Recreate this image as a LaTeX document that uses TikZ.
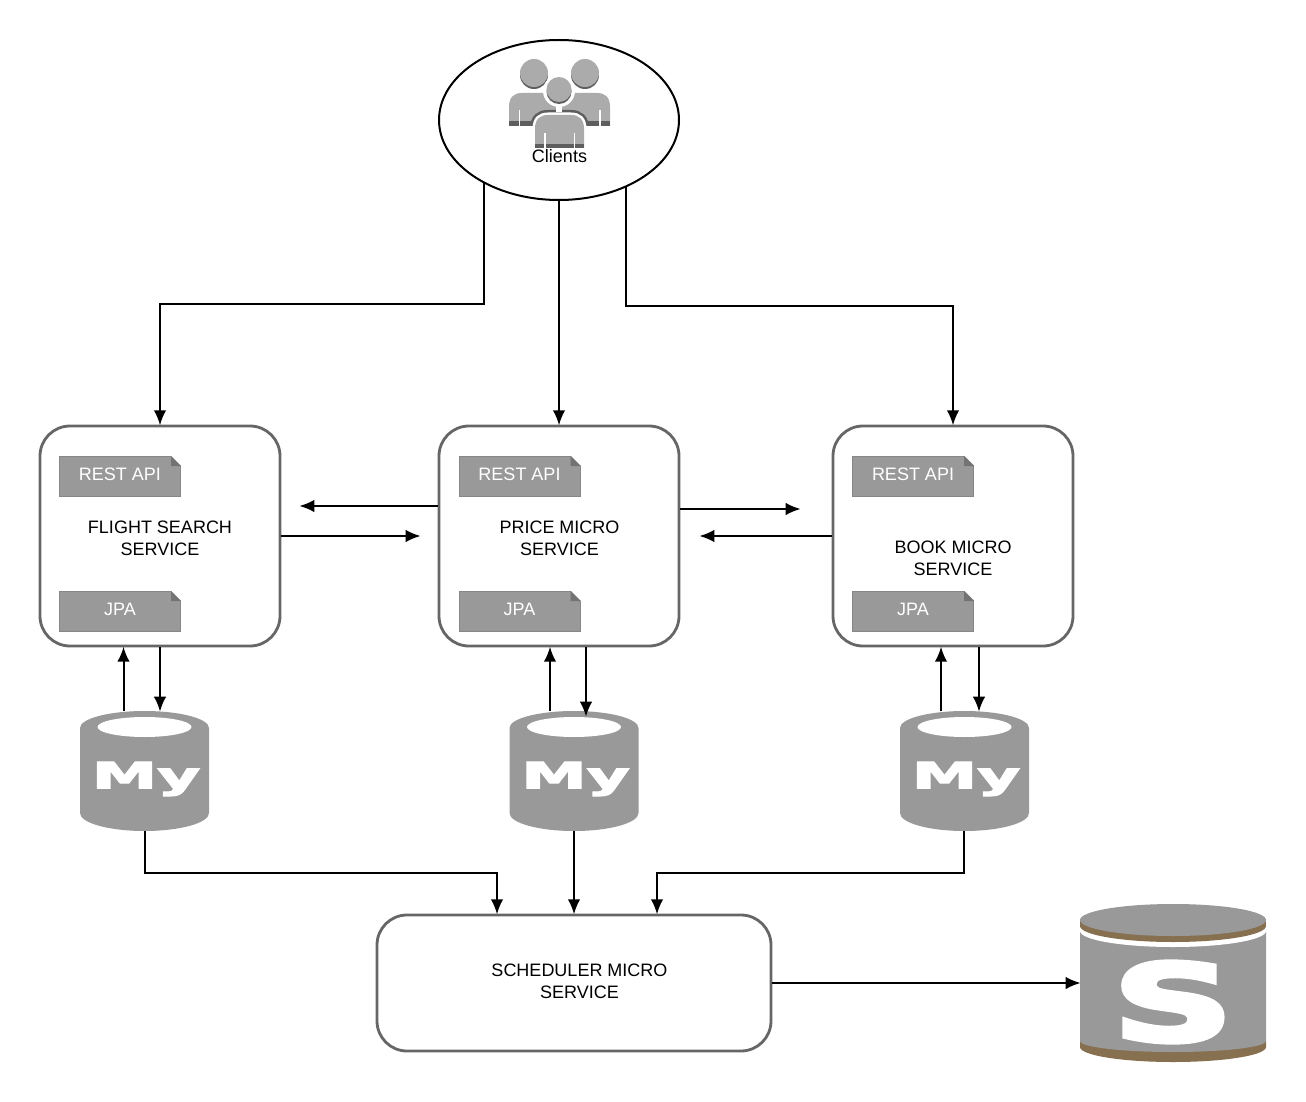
\documentclass[tikz,border=0pt]{standalone}
\usepackage{fontspec}
\setmainfont{Liberation Sans}
\newfontfamily\heavyfont[BoldFeatures={FakeBold=3}]{DejaVu Sans}
\newfontfamily\heavierfont[BoldFeatures={FakeBold=4}]{DejaVu Sans}
\usetikzlibrary{shapes.geometric,arrows.meta,calc}
\definecolor{dbgray}{HTML}{999999}
\definecolor{icongray}{HTML}{ABABAB}
\definecolor{icondark}{HTML}{5E5E5E}
\definecolor{boxedge}{HTML}{666666}
\definecolor{brownband}{HTML}{86704F}
\definecolor{docedge}{HTML}{878787}
\tikzset{
  arr/.style={draw=black,line width=2pt,shorten >=-0.7pt,-{Latex[length=15pt,width=12.5pt]}},
  svc/.style={draw=boxedge,line width=2.8pt,fill=white,rounded corners=30pt,minimum height=220pt,minimum width=240pt,inner sep=0pt},
  svctext/.style={align=center,inner sep=0pt,font=\fontsize{18}{22}\selectfont},
  doc/.style={fill=dbgray,draw=docedge,line width=1pt,minimum width=121pt,minimum height=40pt,inner sep=0pt,text=white,font=\fontsize{18}{22}\selectfont},
  hit/.style={minimum width=129pt,minimum height=120pt,inner sep=0pt,outer sep=0pt},
}
\newcommand{\docnote}[4]{% name, cx, cy, text
  \node[doc] (#1) at (#2,#3) {};
  \fill[white] (#2+51,#3-21) -- (#2+62,#3-21) -- (#2+62,#3-10) -- cycle;
  \fill[black!55] (#2+51,#3-20.5) -- (#2+61,#3-10.5) -- (#2+51,#3-10.5) -- cycle;
  \node[text=white,inner sep=0pt,font=\fontsize{18}{22}\selectfont] at (#2,#3) {\strut #4};
}
\newcommand{\mysqldb}[2]{% name, cx
  \node[hit] (#1) at (#2,771) {};
  \fill[dbgray] (#2-64.5,728) arc[x radius=64.5,y radius=-17,start angle=180,end angle=0]
     -- (#2+64.5,813) arc[x radius=64.5,y radius=-18,start angle=0,end angle=-180] -- cycle;
  \fill[white] (#2,727) ellipse[x radius=47,y radius=10];
  \node[text=white,inner sep=0pt] at (#2+1.5,779)
    {\scalebox{1.83}[1.0]{\heavyfont\bfseries\fontsize{36}{36}\selectfont My}};
}
\newcommand{\personbody}[4]{% left x, top y, right x, bottom y
  (#1,#4) -- (#1,#2+14) .. controls (#1,#2+4) and (#1+5,#2) .. (#1+13,#2)
  -- (#3-13,#2) .. controls (#3-5,#2) and (#3,#2+4) .. (#3,#2+14) -- (#3,#4) -- cycle
}
\begin{document}
\begin{tikzpicture}[x=1pt,y=-1pt]
\useasboundingbox (0,0) rectangle (1306,1102);
\fill[white] (0,0) rectangle (1306,1102);

% nodes
\node[draw=black,line width=2pt,ellipse,fill=white,minimum width=240pt,minimum height=160pt,inner sep=0pt] (clients) at (559,120) {};

% people icon
\begin{scope}
  \fill[icongray] \personbody{509}{93}{560}{126};
  \fill[icongray] \personbody{559}{93}{610}{126};
  \fill[icondark] (509,121) rectangle (560,126);
  \fill[icondark] (559,121) rectangle (610,126);
  \fill[white] (518.5,110) rectangle (520,126);
  \fill[white] (599,110) rectangle (600.5,126);
  \begin{scope}
    \clip (509,93) rectangle (610,126);
    \draw[icondark,line width=10pt] \personbody{535}{115}{584}{150};
    \draw[white,line width=5pt] \personbody{535}{115}{584}{150};
  \end{scope}
  \fill[icondark] (534,75) circle[radius=14];
  \fill[icongray] (534,73) circle[radius=14];
  \fill[icondark] (585,75) circle[radius=14];
  \fill[icongray] (585,73) circle[radius=14];
  \fill[white] (559,91) circle[radius=16];
  \fill[white] (556,104) rectangle (562,112);
  \fill[icondark] (559,91.5) circle[radius=12.5];
  \fill[icongray] (559,89.5) circle[radius=12.5];
  \fill[icongray] \personbody{535}{115}{584}{148};
  \fill[icondark] (535,144) rectangle (584,148);
  \fill[white] (544,133) rectangle (545.5,148);
  \fill[white] (573.5,133) rectangle (575,148);
\end{scope}
\node[svctext] (clientslabel) at (559.5,156) {Clients};

\node[svc] (flight) at (160,536) {};
\node[svc] (price) at (559,536) {};
\node[svc] (book) at (953,536) {};
\node[svc,minimum width=394pt,minimum height=136pt] (scheduler) at (574,983) {};

\node[svctext] (flightlabel) at (160,538.6) {FLIGHT SEARCH\\SERVICE};
\node[svctext] (pricelabel) at (559.5,538.6) {PRICE MICRO\\SERVICE};
\node[svctext] (booklabel) at (953,558.6) {BOOK MICRO\\SERVICE};
\node[svctext] (schedulerlabel) at (579.5,981.5) {SCHEDULER MICRO\\SERVICE};

\docnote{restA}{120}{476.5}{REST API}
\docnote{jpaA}{120}{611.5}{JPA}
\docnote{restB}{519.5}{476.5}{REST API}
\docnote{jpaB}{519.5}{611.5}{JPA}
\docnote{restC}{913}{476.5}{REST API}
\docnote{jpaC}{913}{611.5}{JPA}

\mysqldb{dbA}{144.5}
\mysqldb{dbB}{574}
\mysqldb{dbC}{964.5}

% S store
\node[minimum width=186pt,minimum height=158pt,inner sep=0pt,outer sep=0pt] (store) at (1173,983) {};
\fill[brownband] (1080,1041) -- (1080,1047) arc[x radius=93,y radius=-15,start angle=180,end angle=360] -- (1266,1041) -- cycle;
\fill[dbgray] (1080,931) -- (1266,931) -- (1266,1041) arc[x radius=93,y radius=-11,start angle=0,end angle=-180] -- cycle;
\fill[white] (1173,931) ellipse[x radius=93,y radius=16];
\fill[brownband] (1173,926) ellipse[x radius=93,y radius=16];
\fill[brownband] (1080,920) rectangle (1266,926);
\fill[dbgray] (1173,920) ellipse[x radius=93,y radius=16];
\node[text=white,inner sep=0pt] at (1173,1002)
  {\scalebox{1.6}[1.02]{\heavierfont\bfseries\fontsize{105}{105}\selectfont S}};

% connectors
\draw[arr] (clients.220) |- ([yshift=121pt]flight.north) -- (flight.north);
\draw[arr] (clients.south) -- (price.north);
\draw[arr] (clients.-45.9) |- ([yshift=119pt]book.north) -- (book.north);

\coordinate (fpEnd) at (420,536);
\coordinate (pfEnd) at (300,506);
\coordinate (pbEnd) at (800,509);
\coordinate (bpEnd) at (700,536);
\draw[arr] (flight.east) -- (fpEnd);
\draw[arr] (price.west |- pfEnd) -- (pfEnd);
\draw[arr] (price.east |- pbEnd) -- (pbEnd);
\draw[arr] (book.west) -- (bpEnd);

\draw[arr] ([xshift=-20.5pt]dbA.north) -- ([xshift=-20.5pt,yshift=31pt]dbA.north) -- ([xshift=-21pt,yshift=31pt]dbA.north) -- ([xshift=-36.5pt]flight.south);
\draw[arr] (flight.south) -- ([xshift=15.5pt]dbA.north);
\draw[arr] ([xshift=-24pt]dbB.north) -- ([xshift=-9pt]price.south);
\draw[arr] ([xshift=27pt]price.south) -- ([xshift=12pt,yshift=-5pt]dbB.north);
\draw[arr] ([xshift=-23.5pt]dbC.north) -- ([xshift=-12pt]book.south);
\draw[arr] ([xshift=26pt]book.south) -- ([xshift=14.5pt]dbC.north);

\draw[arr] ([xshift=.5pt]dbA.south) |- ([xshift=-77pt,yshift=41pt]scheduler.north) -- ([xshift=-77pt]scheduler.north);
\draw[arr] (dbB.south) -- (scheduler.north);
\draw[arr] ([xshift=-.5pt]dbC.south) |- ([xshift=83pt,yshift=41pt]scheduler.north) -- ([xshift=83pt]scheduler.north);
\draw[arr] (scheduler.east) -- (store.west);
\end{tikzpicture}
\end{document}
